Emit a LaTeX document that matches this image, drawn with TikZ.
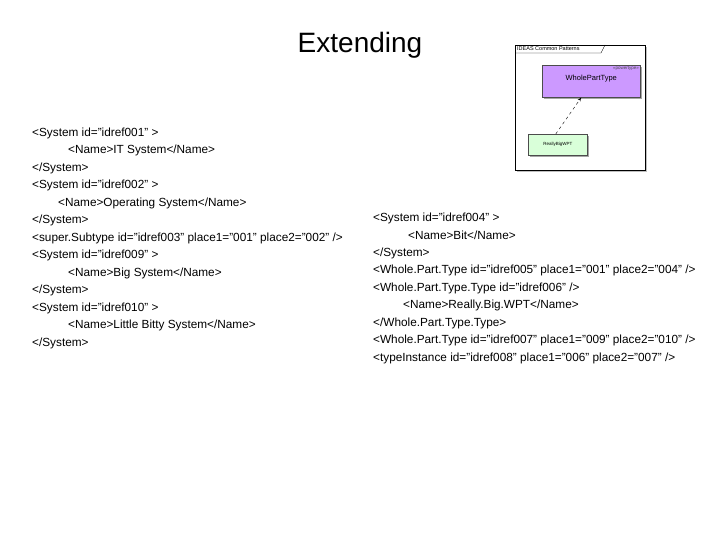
\documentclass[tikz,border=0pt]{standalone}
\usepackage{fontspec}
\setmainfont{Liberation Sans}
\usetikzlibrary{arrows.meta}
\definecolor{lav}{RGB}{204,153,255}
\begin{document}
\begin{tikzpicture}[x=1pt,y=-1pt,
  txt/.style={anchor=west,inner sep=0pt,font=\fontsize{11.8}{13}\selectfont},
  box/.style={draw=black!70,line width=0.5pt,inner sep=0pt}]
\useasboundingbox (0,0) rectangle (720,540);
\node[font=\fontsize{28}{30}\selectfont] (title) at (360,45) {Extending};
\def\L#1#2#3#4{\node[txt] (#1) at (#2,#3) {#4};}
\L{a1}{32}{133}{<System id="idref001" >}
\L{a2}{68}{150.5}{<Name>IT System</Name>}
\L{a3}{32}{168}{</System>}
\L{a4}{32}{185.5}{<System id="idref002" >}
\L{a5}{58}{203}{<Name>Operating System</Name>}
\L{a6}{32}{220.5}{</System>}
\L{a7}{32}{238}{<super.Subtype id="idref003" place1="001" place2="002" />}
\L{a8}{32}{255.5}{<System id="idref009" >}
\L{a9}{68}{273}{<Name>Big System</Name>}
\L{a10}{32}{290.5}{</System>}
\L{a11}{32}{308}{<System id="idref010" >}
\L{a12}{68}{325.5}{<Name>Little Bitty System</Name>}
\L{a13}{32}{343}{</System>}
\L{b1}{373}{218}{<System id="idref004" >}
\L{b2}{408}{235.5}{<Name>Bit</Name>}
\L{b3}{373}{253}{</System>}
\L{b4}{373}{270.5}{<Whole.Part.Type id="idref005" place1="001" place2="004" />}
\L{b5}{373}{288}{<Whole.Part.Type.Type id="idref006" />}
\L{b6}{403}{305.5}{<Name>Really.Big.WPT</Name>}
\L{b7}{373}{323}{</Whole.Part.Type.Type>}
\L{b8}{373}{340.5}{<Whole.Part.Type id="idref007" place1="009" place2="010" />}
\L{b9}{373}{358}{<typeInstance id="idref008" place1="006" place2="007" />}
% small diagram
\fill[black!25] (517,47) rectangle (647,172);
\draw[fill=white,line width=0.4pt] (515,45) rectangle (645,170);
\draw[line width=0.4pt] (515,53) -- (601,53) -- (605,45);
\node[anchor=west,inner sep=0pt,font=\fontsize{5.5}{6}\selectfont] (pk) at (517,49) {IDEAS Common Patterns};
\fill[black!35] (544,67) rectangle (642,99);
\node[box,fill=lav,minimum width=98pt,minimum height=32pt,anchor=north west] (wp) at (542,65) {};
\node[anchor=north east,inner sep=1.5pt,font=\fontsize{4.5}{5}\selectfont,text=black!70] at (wp.north east) {<<powertype>>};
\node[inner sep=0pt,font=\fontsize{7.5}{8}\selectfont] at ([yshift=3pt]wp.center) {WholePartType};
\fill[black!35] (530,136) rectangle (589,157);
\node[box,fill=green!15,minimum width=59pt,minimum height=21pt,anchor=north west] (rb) at (528,134) {};
\node[inner sep=0pt,font=\fontsize{4.5}{5}\selectfont] at (rb.center) {ReallyBigWPT};
\draw[dashed,line width=0.4pt,-{Stealth[open,length=4pt]}] ([xshift=-2pt]rb.north) -- ([xshift=-10pt]wp.south);
\end{tikzpicture}
\end{document}
